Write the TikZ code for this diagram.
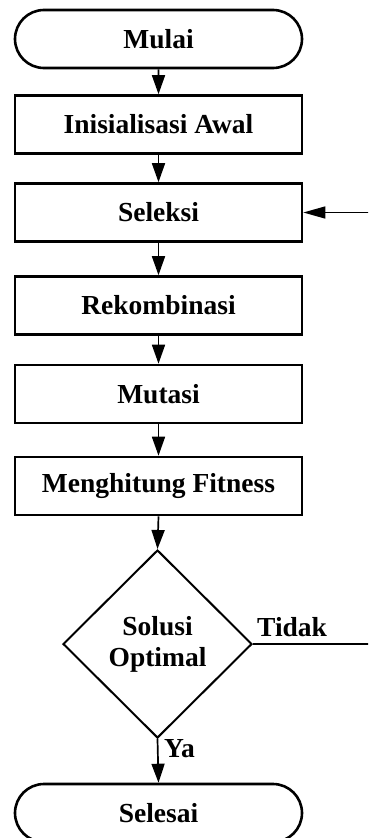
\documentclass[tikz,border=0pt]{standalone}
\usepackage{fontspec}
\setmainfont{Liberation Serif}
\usetikzlibrary{shapes.misc,shapes.geometric,arrows.meta}
\begin{document}
\begin{tikzpicture}[x=1pt,y=-1pt,
  every node/.style={font=\fontsize{27.5}{33}\selectfont\bfseries},
  term/.style={draw,line width=2.6pt,rounded rectangle,minimum width=287pt,minimum height=58pt,inner sep=0pt},
  proc/.style={draw,line width=2.6pt,rectangle,minimum width=287pt,minimum height=58pt,inner sep=0pt},
  decis/.style={draw,line width=2pt,diamond,minimum width=189pt,minimum height=188pt,inner sep=0pt,align=center},
  conn/.style={line width=1.7pt,-{Triangle[length=19pt,width=13pt]}},
  lbl/.style={inner sep=0pt,anchor=base west}]
\useasboundingbox (0,0) rectangle (368,838);
\clip (0,0) rectangle (368,838);
\node[term] (mulai) at (158.5,39) {Mulai};
\node[proc] (init) at (158.5,124.5) {Inisialisasi Awal};
\node[proc] (sel) at (158.5,212.5) {Seleksi};
\node[proc] (rek) at (158.5,305.5) {Rekombinasi};
\node[proc] (mut) at (158.5,394) {Mutasi};
\node[proc] (fit) at (158.5,486) {Menghitung Fitness};
\node[decis] (dec) at (157.5,644) {Solusi\\[-2pt]Optimal};
\node[term] (end) at (158.5,813) {Selesai};
\draw[conn] (mulai) -- (init);
\draw[conn] (init) -- (sel);
\draw[conn] (sel) -- (rek);
\draw[conn] (rek) -- (mut);
\draw[conn] (mut) -- (fit);
\draw[conn] (fit.south) -- (dec.north);
\draw[conn] (dec.south) -- (end.north);
\coordinate (loop) at (385,644);
\draw[line width=1.5pt,-{Triangle[length=22pt,width=12pt]}] (dec.east) -- (loop) |- (sel.east);
\node[lbl] (tidak) at (257,636) {Tidak};
\node[lbl] (ya) at (164,757) {Ya};
\end{tikzpicture}
\end{document}
